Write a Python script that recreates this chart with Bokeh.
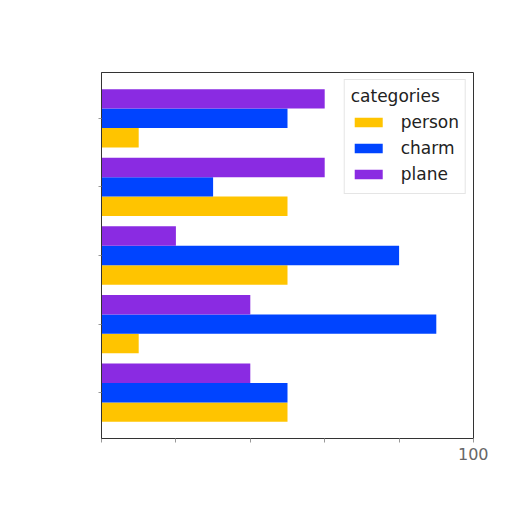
from bokeh.plotting import figure
from bokeh.models import ColumnDataSource, Range1d, FixedTicker
from bokeh.transform import dodge
from bokeh.embed import file_html
from bokeh.resources import INLINE

# data (groups listed top to bottom)
groups = [0, 1, 2, 3, 4]
person = [10, 50, 50, 10, 50]
charm = [50, 30, 80, 90, 50]
plane = [60, 60, 20, 40, 40]
series = ["person", "charm", "plane"]
colors = ["#FFC400", "#0044FF", "#8A2BE2"]
x_ticks = [0, 20, 40, 60, 80, 100]

ypos = [len(groups) - 1 - g for g in groups]
source = ColumnDataSource(dict(y=ypos, person=person, charm=charm, plane=plane))

FONT = "DejaVu Sans"
p = figure(width=488, height=488, output_backend="svg", toolbar_location=None,
           x_range=Range1d(0, 100), y_range=Range1d(-0.667, len(groups) - 1 + 0.667),
           min_border_left=101, min_border_right=15, min_border_top=72, min_border_bottom=50)

bar_h = 0.283
offsets = [-bar_h, 0.0, bar_h]
for name, col, off in zip(series, colors, offsets):
    p.hbar(y=dodge("y", off, range=p.y_range), right=name, left=0, height=bar_h,
           source=source, color=col, line_color=None, legend_label=name)

p.xgrid.visible = False
p.ygrid.visible = False
p.outline_line_color = "#333333"
p.outline_line_width = 1
p.background_fill_color = "white"
p.border_fill_color = "white"

p.xaxis.ticker = FixedTicker(ticks=x_ticks)
p.xaxis.major_label_overrides = {t: ("" if t != 100 else "100") for t in x_ticks}
p.xaxis.major_label_text_font = FONT
p.xaxis.major_label_text_font_size = "16px"
p.xaxis.major_label_text_color = "#666666"
p.xaxis.minor_tick_line_color = None
p.xaxis.major_tick_out = 4
p.xaxis.major_tick_in = 0
p.xaxis.axis_line_color = "#333333"
p.xaxis.major_tick_line_color = "#999999"

p.yaxis.ticker = FixedTicker(ticks=ypos)
p.yaxis.major_label_overrides = {y: "" for y in ypos}
p.yaxis.minor_tick_line_color = None
p.yaxis.major_tick_out = 3
p.yaxis.major_tick_in = 0
p.yaxis.axis_line_color = "#333333"
p.yaxis.major_tick_line_color = "#999999"

lg = p.legend[0]
lg.title = "categories"
lg.title_text_font = FONT
lg.title_text_font_size = "17px"
lg.title_text_font_style = "normal"
lg.title_text_color = "#222222"
lg.title_standoff = 3
lg.label_text_font = FONT
lg.label_text_font_size = "17px"
lg.label_text_color = "#222222"
lg.label_height = 26
lg.glyph_height = 12
lg.glyph_width = 35
lg.label_standoff = 15
lg.spacing = 0
lg.padding = 6
lg.margin = 7
lg.location = "top_right"
lg.border_line_color = "#cccccc"
lg.background_fill_color = "white"
lg.background_fill_alpha = 0.8

open("out.html", "w").write(file_html(p, INLINE))
